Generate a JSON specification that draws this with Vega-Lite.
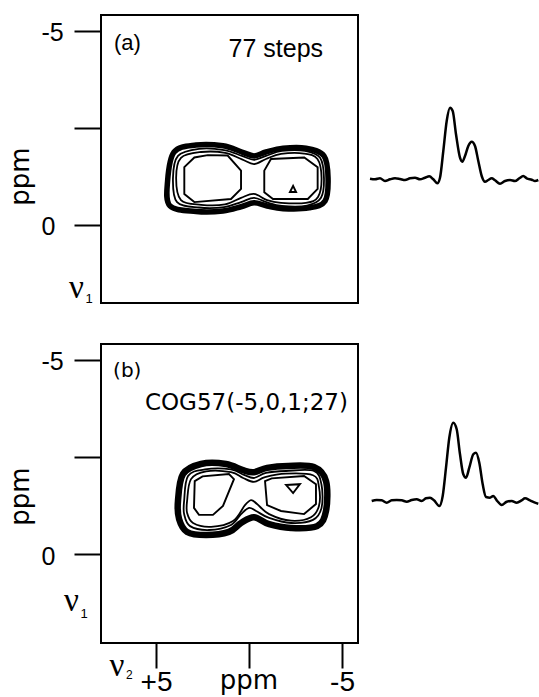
{
"$schema": "https://vega.github.io/schema/vega-lite/v6.json",
"padding": 0,
"background": "white",
"config": {"view": {"stroke": null}, "axis": {"grid": false}},
"datasets": {
"contours": [
{"p":"a","c":"a1","l":"band","i":0,"x":4.38,"y":-1.13},
{"p":"a","c":"a1","l":"band","i":1,"x":4.03,"y":-1.88},
{"p":"a","c":"a1","l":"band","i":2,"x":2.85,"y":-2.06},
{"p":"a","c":"a1","l":"band","i":3,"x":1.40,"y":-2.04},
{"p":"a","c":"a1","l":"band","i":4,"x":0.38,"y":-1.88},
{"p":"a","c":"a1","l":"band","i":5,"x":-0.27,"y":-1.78},
{"p":"a","c":"a1","l":"band","i":6,"x":-0.91,"y":-1.88},
{"p":"a","c":"a1","l":"band","i":7,"x":-1.83,"y":-1.98},
{"p":"a","c":"a1","l":"band","i":8,"x":-3.06,"y":-1.98},
{"p":"a","c":"a1","l":"band","i":9,"x":-4.03,"y":-1.78},
{"p":"a","c":"a1","l":"band","i":10,"x":-4.25,"y":-1.21},
{"p":"a","c":"a1","l":"band","i":11,"x":-4.09,"y":-0.62},
{"p":"a","c":"a1","l":"band","i":12,"x":-3.23,"y":-0.44},
{"p":"a","c":"a1","l":"band","i":13,"x":-1.83,"y":-0.42},
{"p":"a","c":"a1","l":"band","i":14,"x":-0.97,"y":-0.49},
{"p":"a","c":"a1","l":"band","i":15,"x":-0.27,"y":-0.57},
{"p":"a","c":"a1","l":"band","i":16,"x":0.43,"y":-0.47},
{"p":"a","c":"a1","l":"band","i":17,"x":1.40,"y":-0.36},
{"p":"a","c":"a1","l":"band","i":18,"x":2.85,"y":-0.35},
{"p":"a","c":"a1","l":"band","i":19,"x":4.25,"y":-0.49},
{"p":"a","c":"a2","l":"thin","i":0,"x":4.09,"y":-1.21},
{"p":"a","c":"a2","l":"thin","i":1,"x":3.82,"y":-1.78},
{"p":"a","c":"a2","l":"thin","i":2,"x":2.69,"y":-1.96},
{"p":"a","c":"a2","l":"thin","i":3,"x":1.34,"y":-1.93},
{"p":"a","c":"a2","l":"thin","i":4,"x":0.38,"y":-1.78},
{"p":"a","c":"a2","l":"thin","i":5,"x":-0.27,"y":-1.68},
{"p":"a","c":"a2","l":"thin","i":6,"x":-0.91,"y":-1.78},
{"p":"a","c":"a2","l":"thin","i":7,"x":-1.77,"y":-1.91},
{"p":"a","c":"a2","l":"thin","i":8,"x":-3.01,"y":-1.91},
{"p":"a","c":"a2","l":"thin","i":9,"x":-3.82,"y":-1.73},
{"p":"a","c":"a2","l":"thin","i":10,"x":-4.03,"y":-1.21},
{"p":"a","c":"a2","l":"thin","i":11,"x":-3.87,"y":-0.70},
{"p":"a","c":"a2","l":"thin","i":12,"x":-3.12,"y":-0.50},
{"p":"a","c":"a2","l":"thin","i":13,"x":-1.77,"y":-0.49},
{"p":"a","c":"a2","l":"thin","i":14,"x":-0.97,"y":-0.58},
{"p":"a","c":"a2","l":"thin","i":15,"x":-0.27,"y":-0.70},
{"p":"a","c":"a2","l":"thin","i":16,"x":0.43,"y":-0.59},
{"p":"a","c":"a2","l":"thin","i":17,"x":1.34,"y":-0.46},
{"p":"a","c":"a2","l":"thin","i":18,"x":2.69,"y":-0.45},
{"p":"a","c":"a2","l":"thin","i":19,"x":3.87,"y":-0.59},
{"p":"a","c":"a3","l":"thin","i":0,"x":3.92,"y":-1.21},
{"p":"a","c":"a3","l":"thin","i":1,"x":3.66,"y":-1.73},
{"p":"a","c":"a3","l":"thin","i":2,"x":2.58,"y":-1.88},
{"p":"a","c":"a3","l":"thin","i":3,"x":1.29,"y":-1.86},
{"p":"a","c":"a3","l":"thin","i":4,"x":0.38,"y":-1.69},
{"p":"a","c":"a3","l":"thin","i":5,"x":-0.27,"y":-1.57},
{"p":"a","c":"a3","l":"thin","i":6,"x":-0.91,"y":-1.70},
{"p":"a","c":"a3","l":"thin","i":7,"x":-1.72,"y":-1.83},
{"p":"a","c":"a3","l":"thin","i":8,"x":-2.96,"y":-1.84},
{"p":"a","c":"a3","l":"thin","i":9,"x":-3.68,"y":-1.70},
{"p":"a","c":"a3","l":"thin","i":10,"x":-3.90,"y":-1.21},
{"p":"a","c":"a3","l":"thin","i":11,"x":-3.71,"y":-0.72},
{"p":"a","c":"a3","l":"thin","i":12,"x":-3.06,"y":-0.57},
{"p":"a","c":"a3","l":"thin","i":13,"x":-1.72,"y":-0.57},
{"p":"a","c":"a3","l":"thin","i":14,"x":-0.97,"y":-0.64},
{"p":"a","c":"a3","l":"thin","i":15,"x":-0.27,"y":-0.80},
{"p":"a","c":"a3","l":"thin","i":16,"x":0.43,"y":-0.70},
{"p":"a","c":"a3","l":"thin","i":17,"x":1.29,"y":-0.53},
{"p":"a","c":"a3","l":"thin","i":18,"x":2.58,"y":-0.52},
{"p":"a","c":"a3","l":"thin","i":19,"x":3.66,"y":-0.64},
{"p":"a","c":"a4","l":"lobe","i":0,"x":3.48,"y":-1.49},
{"p":"a","c":"a4","l":"lobe","i":1,"x":2.94,"y":-1.74},
{"p":"a","c":"a4","l":"lobe","i":2,"x":2.22,"y":-1.80},
{"p":"a","c":"a4","l":"lobe","i":3,"x":1.15,"y":-1.79},
{"p":"a","c":"a4","l":"lobe","i":4,"x":0.43,"y":-1.40},
{"p":"a","c":"a4","l":"lobe","i":5,"x":0.43,"y":-0.93},
{"p":"a","c":"a4","l":"lobe","i":6,"x":0.97,"y":-0.67},
{"p":"a","c":"a4","l":"lobe","i":7,"x":2.94,"y":-0.59},
{"p":"a","c":"a4","l":"lobe","i":8,"x":3.48,"y":-0.80},
{"p":"a","c":"a5","l":"lobe","i":0,"x":-0.82,"y":-1.40},
{"p":"a","c":"a5","l":"lobe","i":1,"x":-1.18,"y":-1.70},
{"p":"a","c":"a5","l":"lobe","i":2,"x":-2.97,"y":-1.74},
{"p":"a","c":"a5","l":"lobe","i":3,"x":-3.69,"y":-1.49},
{"p":"a","c":"a5","l":"lobe","i":4,"x":-3.69,"y":-0.93},
{"p":"a","c":"a5","l":"lobe","i":5,"x":-3.16,"y":-0.67},
{"p":"a","c":"a5","l":"lobe","i":6,"x":-1.29,"y":-0.67},
{"p":"a","c":"a5","l":"lobe","i":7,"x":-0.82,"y":-0.84},
{"p":"a","c":"a6","l":"lobe","i":0,"x":-2.20,"y":-0.85},
{"p":"a","c":"a6","l":"lobe","i":1,"x":-2.53,"y":-0.85},
{"p":"a","c":"a6","l":"lobe","i":2,"x":-2.37,"y":-1.01},
{"p":"b","c":"b1","l":"band","i":0,"x":3.82,"y":-1.37},
{"p":"b","c":"b1","l":"band","i":1,"x":3.55,"y":-2.06},
{"p":"b","c":"b1","l":"band","i":2,"x":2.58,"y":-2.32},
{"p":"b","c":"b1","l":"band","i":3,"x":1.24,"y":-2.32},
{"p":"b","c":"b1","l":"band","i":4,"x":0.32,"y":-2.16},
{"p":"b","c":"b1","l":"band","i":5,"x":-0.27,"y":-2.11},
{"p":"b","c":"b1","l":"band","i":6,"x":-0.97,"y":-2.22},
{"p":"b","c":"b1","l":"band","i":7,"x":-2.10,"y":-2.27},
{"p":"b","c":"b1","l":"band","i":8,"x":-3.49,"y":-2.24},
{"p":"b","c":"b1","l":"band","i":9,"x":-4.14,"y":-1.88},
{"p":"b","c":"b1","l":"band","i":10,"x":-4.14,"y":-1.11},
{"p":"b","c":"b1","l":"band","i":11,"x":-3.66,"y":-0.72},
{"p":"b","c":"b1","l":"band","i":12,"x":-2.26,"y":-0.67},
{"p":"b","c":"b1","l":"band","i":13,"x":-1.08,"y":-0.77},
{"p":"b","c":"b1","l":"band","i":14,"x":-0.27,"y":-0.95},
{"p":"b","c":"b1","l":"band","i":15,"x":0.43,"y":-0.80},
{"p":"b","c":"b1","l":"band","i":16,"x":1.08,"y":-0.57},
{"p":"b","c":"b1","l":"band","i":17,"x":2.31,"y":-0.49},
{"p":"b","c":"b1","l":"band","i":18,"x":3.33,"y":-0.57},
{"p":"b","c":"b1","l":"band","i":19,"x":3.76,"y":-0.90},
{"p":"b","c":"b2","l":"thin","i":0,"x":3.49,"y":-1.37},
{"p":"b","c":"b2","l":"thin","i":1,"x":3.28,"y":-2.01},
{"p":"b","c":"b2","l":"thin","i":2,"x":2.37,"y":-2.18},
{"p":"b","c":"b2","l":"thin","i":3,"x":0.97,"y":-2.18},
{"p":"b","c":"b2","l":"thin","i":4,"x":0.27,"y":-2.04},
{"p":"b","c":"b2","l":"thin","i":5,"x":-0.27,"y":-1.96},
{"p":"b","c":"b2","l":"thin","i":6,"x":-0.91,"y":-2.09},
{"p":"b","c":"b2","l":"thin","i":7,"x":-1.99,"y":-2.14},
{"p":"b","c":"b2","l":"thin","i":8,"x":-3.49,"y":-2.14},
{"p":"b","c":"b2","l":"thin","i":9,"x":-3.90,"y":-1.78},
{"p":"b","c":"b2","l":"thin","i":10,"x":-3.90,"y":-1.19},
{"p":"b","c":"b2","l":"thin","i":11,"x":-3.44,"y":-0.88},
{"p":"b","c":"b2","l":"thin","i":12,"x":-2.26,"y":-0.80},
{"p":"b","c":"b2","l":"thin","i":13,"x":-1.08,"y":-0.93},
{"p":"b","c":"b2","l":"thin","i":14,"x":-0.38,"y":-1.11},
{"p":"b","c":"b2","l":"thin","i":15,"x":0.0,"y":-1.19},
{"p":"b","c":"b2","l":"thin","i":16,"x":0.43,"y":-1.03},
{"p":"b","c":"b2","l":"thin","i":17,"x":0.97,"y":-0.75},
{"p":"b","c":"b2","l":"thin","i":18,"x":2.15,"y":-0.62},
{"p":"b","c":"b2","l":"thin","i":19,"x":3.17,"y":-0.72},
{"p":"b","c":"b2","l":"thin","i":20,"x":3.49,"y":-1.03},
{"p":"b","c":"b3","l":"thin","i":0,"x":3.33,"y":-1.37},
{"p":"b","c":"b3","l":"thin","i":1,"x":3.12,"y":-1.93},
{"p":"b","c":"b3","l":"thin","i":2,"x":2.31,"y":-2.13},
{"p":"b","c":"b3","l":"thin","i":3,"x":0.97,"y":-2.11},
{"p":"b","c":"b3","l":"thin","i":4,"x":0.32,"y":-1.96},
{"p":"b","c":"b3","l":"thin","i":5,"x":-0.27,"y":-1.86},
{"p":"b","c":"b3","l":"thin","i":6,"x":-0.86,"y":-1.98},
{"p":"b","c":"b3","l":"thin","i":7,"x":-1.99,"y":-2.07},
{"p":"b","c":"b3","l":"thin","i":8,"x":-3.44,"y":-2.03},
{"p":"b","c":"b3","l":"thin","i":9,"x":-3.76,"y":-1.73},
{"p":"b","c":"b3","l":"thin","i":10,"x":-3.76,"y":-1.24},
{"p":"b","c":"b3","l":"thin","i":11,"x":-3.33,"y":-0.95},
{"p":"b","c":"b3","l":"thin","i":12,"x":-2.26,"y":-0.86},
{"p":"b","c":"b3","l":"thin","i":13,"x":-1.08,"y":-1.03},
{"p":"b","c":"b3","l":"thin","i":14,"x":-0.43,"y":-1.29},
{"p":"b","c":"b3","l":"thin","i":15,"x":-0.11,"y":-1.39},
{"p":"b","c":"b3","l":"thin","i":16,"x":0.22,"y":-1.26},
{"p":"b","c":"b3","l":"thin","i":17,"x":0.86,"y":-0.85},
{"p":"b","c":"b3","l":"thin","i":18,"x":2.04,"y":-0.70},
{"p":"b","c":"b3","l":"thin","i":19,"x":3.01,"y":-0.80},
{"p":"b","c":"b3","l":"thin","i":20,"x":3.33,"y":-1.06},
{"p":"b","c":"b4","l":"lobe","i":0,"x":2.92,"y":-1.88},
{"p":"b","c":"b4","l":"lobe","i":1,"x":2.50,"y":-2.00},
{"p":"b","c":"b4","l":"lobe","i":2,"x":1.08,"y":-2.06},
{"p":"b","c":"b4","l":"lobe","i":3,"x":0.81,"y":-1.93},
{"p":"b","c":"b4","l":"lobe","i":4,"x":1.40,"y":-1.24},
{"p":"b","c":"b4","l":"lobe","i":5,"x":1.94,"y":-1.01},
{"p":"b","c":"b4","l":"lobe","i":6,"x":2.69,"y":-1.01},
{"p":"b","c":"b4","l":"lobe","i":7,"x":2.96,"y":-1.19},
{"p":"b","c":"b5","l":"lobe","i":0,"x":-0.86,"y":-1.88},
{"p":"b","c":"b5","l":"lobe","i":1,"x":-1.22,"y":-1.95},
{"p":"b","c":"b5","l":"lobe","i":2,"x":-2.96,"y":-2.01},
{"p":"b","c":"b5","l":"lobe","i":3,"x":-3.60,"y":-1.80},
{"p":"b","c":"b5","l":"lobe","i":4,"x":-3.60,"y":-1.29},
{"p":"b","c":"b5","l":"lobe","i":5,"x":-2.96,"y":-1.03},
{"p":"b","c":"b5","l":"lobe","i":6,"x":-1.72,"y":-1.11},
{"p":"b","c":"b5","l":"lobe","i":7,"x":-0.97,"y":-1.26},
{"p":"b","c":"b6","l":"lobe","i":0,"x":-1.99,"y":-1.78},
{"p":"b","c":"b6","l":"lobe","i":1,"x":-2.74,"y":-1.80},
{"p":"b","c":"b6","l":"lobe","i":2,"x":-2.37,"y":-1.57}
],
"spectra": [
{"p":"a","s":8.40,"v":0.03},{"p":"a","s":7.90,"v":-0.03},{"p":"a","s":7.40,"v":0.07},{"p":"a","s":6.90,"v":-0.20},
{"p":"a","s":6.40,"v":-0.03},{"p":"a","s":5.90,"v":0.07},{"p":"a","s":5.40,"v":0.00},{"p":"a","s":4.90,"v":-0.10},
{"p":"a","s":4.40,"v":0.07},{"p":"a","s":3.90,"v":0.13},{"p":"a","s":3.40,"v":-0.03},{"p":"a","s":2.90,"v":0.13},
{"p":"a","s":2.47,"v":0.27},{"p":"a","s":2.07,"v":-0.03},{"p":"a","s":1.67,"v":-0.43},{"p":"a","s":1.40,"v":0.13},
{"p":"a","s":1.07,"v":2.80},{"p":"a","s":0.73,"v":5.80},{"p":"a","s":0.40,"v":7.13},{"p":"a","s":0.13,"v":6.80},
{"p":"a","s":-0.20,"v":4.47},{"p":"a","s":-0.60,"v":2.13},{"p":"a","s":-0.83,"v":1.73},{"p":"a","s":-1.10,"v":2.30},
{"p":"a","s":-1.43,"v":3.30},{"p":"a","s":-1.77,"v":3.73},{"p":"a","s":-2.10,"v":3.30},{"p":"a","s":-2.43,"v":1.80},
{"p":"a","s":-2.77,"v":0.30},{"p":"a","s":-3.10,"v":-0.27},{"p":"a","s":-3.43,"v":-0.10},{"p":"a","s":-3.77,"v":0.07},
{"p":"a","s":-4.10,"v":-0.13},{"p":"a","s":-4.60,"v":-0.47},{"p":"a","s":-5.10,"v":-0.20},{"p":"a","s":-5.60,"v":-0.10},
{"p":"a","s":-6.10,"v":-0.20},{"p":"a","s":-6.53,"v":0.07},{"p":"a","s":-6.93,"v":0.30},{"p":"a","s":-7.27,"v":0.07},
{"p":"a","s":-7.77,"v":-0.07},{"p":"a","s":-8.10,"v":-0.20},{"p":"a","s":-8.43,"v":-0.10},
{"p":"b","s":8.23,"v":0.00},{"p":"b","s":7.73,"v":0.10},{"p":"b","s":7.23,"v":0.07},{"p":"b","s":6.73,"v":-0.17},
{"p":"b","s":6.23,"v":0.07},{"p":"b","s":5.73,"v":0.10},{"p":"b","s":5.23,"v":0.07},{"p":"b","s":4.73,"v":-0.07},
{"p":"b","s":4.23,"v":0.10},{"p":"b","s":3.73,"v":0.17},{"p":"b","s":3.23,"v":0.00},{"p":"b","s":2.80,"v":0.27},
{"p":"b","s":2.40,"v":0.33},{"p":"b","s":2.00,"v":0.07},{"p":"b","s":1.47,"v":-0.50},{"p":"b","s":1.13,"v":0.50},
{"p":"b","s":0.80,"v":3.33},{"p":"b","s":0.47,"v":6.33},{"p":"b","s":0.07,"v":7.83},{"p":"b","s":-0.27,"v":7.17},
{"p":"b","s":-0.60,"v":4.67},{"p":"b","s":-0.93,"v":2.67},{"p":"b","s":-1.20,"v":2.33},{"p":"b","s":-1.53,"v":3.33},
{"p":"b","s":-1.93,"v":4.67},{"p":"b","s":-2.20,"v":4.83},{"p":"b","s":-2.53,"v":3.83},{"p":"b","s":-2.87,"v":1.67},
{"p":"b","s":-3.20,"v":0.40},{"p":"b","s":-3.60,"v":0.33},{"p":"b","s":-3.93,"v":0.50},{"p":"b","s":-4.27,"v":0.07},
{"p":"b","s":-4.77,"v":-0.40},{"p":"b","s":-5.27,"v":-0.07},{"p":"b","s":-5.77,"v":0.00},{"p":"b","s":-6.27,"v":-0.17},
{"p":"b","s":-6.77,"v":0.07},{"p":"b","s":-7.10,"v":0.27},{"p":"b","s":-7.60,"v":0.07},{"p":"b","s":-8.10,"v":-0.17},
{"p":"b","s":-8.43,"v":-0.27}
]
},
"columns": 2,
"spacing": {"row": 30, "column": 11},
"bounds": "flush",
"align": "all",
"concat": [
{
"width": 257, "height": 288,
"view": {"stroke": "black", "strokeWidth": 2},
"data": {"name": "contours"},
"encoding": {
"x": {"field": "x", "type": "quantitative", "scale": {"domain": [-5.86, 7.96], "reverse": true, "nice": false, "zero": false}, "axis": null},
"y": {"field": "y", "type": "quantitative", "scale": {"domain": [-5.41, 2.01], "reverse": true, "nice": false, "zero": false},
"axis": {"values": [-5, -2.5, 0], "labelExpr": "datum.value == 0 ? '0' : (datum.value == -5 ? '-5' : '')", "domain": false, "grid": false, "tickSize": 27, "tickWidth": 2, "tickColor": "black", "labelFont": "Liberation Sans", "labelFontSize": 25, "labelColor": "black", "labelAlign": "left", "labelPadding": 33, "labelBaseline": "middle", "labelOffset": 2, "labelFlush": false, "labelOverlap": false, "title": "ppm", "titleFont": "DejaVu Sans", "titleFontSize": 26, "titleFontWeight": "normal", "titleColor": "black", "titleAngle": -90, "titleX": -73, "titleY": 161, "titleAlign": "center", "titleBaseline": "alphabetic"}}
},
"layer": [
{"transform": [{"filter": "datum.p == 'a' && datum.l == 'band'"}], "mark": {"type": "line", "interpolate": "cardinal-closed", "strokeWidth": 5.5, "color": "black"}, "encoding": {"detail": {"field": "c"}, "order": {"field": "i", "type": "quantitative"}}},
{"transform": [{"filter": "datum.p == 'a' && datum.l == 'thin'"}], "mark": {"type": "line", "interpolate": "cardinal-closed", "strokeWidth": 1.8, "color": "black"}, "encoding": {"detail": {"field": "c"}, "order": {"field": "i", "type": "quantitative"}}},
{"transform": [{"filter": "datum.p == 'a' && datum.l == 'lobe'"}], "mark": {"type": "line", "interpolate": "linear-closed", "strokeWidth": 1.9, "color": "black"}, "encoding": {"detail": {"field": "c"}, "order": {"field": "i", "type": "quantitative"}}},
{"transform": [{"filter": "datum.c == 'a1' && datum.i == 0"}], "mark": {"type": "text", "text": "(a)", "font": "Liberation Sans", "fontSize": 22, "align": "left", "baseline": "alphabetic", "fill": "black"}, "encoding": {"x": {"datum": 7.26, "type": "quantitative"}, "y": {"datum": -4.51, "type": "quantitative"}}},
{"transform": [{"filter": "datum.c == 'a1' && datum.i == 0"}], "mark": {"type": "text", "text": "77 steps", "font": "Liberation Sans", "fontSize": 25, "align": "right", "baseline": "alphabetic", "fill": "black"}, "encoding": {"x": {"datum": -3.98, "type": "quantitative"}, "y": {"datum": -4.33, "type": "quantitative"}}},
{"transform": [{"filter": "datum.c == 'a1' && datum.i == 0"}], "mark": {"type": "text", "text": "ν", "font": "Liberation Serif", "fontSize": 33, "align": "center", "baseline": "alphabetic", "fill": "black"}, "encoding": {"x": {"datum": 9.28, "type": "quantitative"}, "y": {"datum": 1.88, "type": "quantitative"}}},
{"transform": [{"filter": "datum.c == 'a1' && datum.i == 0"}], "mark": {"type": "text", "text": "1", "font": "Liberation Sans", "fontSize": 13, "align": "center", "baseline": "alphabetic", "fill": "black"}, "encoding": {"x": {"datum": 8.60, "type": "quantitative"}, "y": {"datum": 2.01, "type": "quantitative"}}},
{"transform": [{"filter": "datum.c == 'a1' && datum.i == 0"}], "mark": {"type": "point", "filled": true, "size": 1, "opacity": 0}, "encoding": {"x": {"datum": 13.31, "type": "quantitative"}, "y": {"datum": -5.757, "type": "quantitative"}}}
]
},
{
"width": 170, "height": 288,
"data": {"name": "spectra"},
"transform": [{"filter": "datum.p == 'a'"}],
"mark": {"type": "line", "interpolate": "monotone", "strokeWidth": 2.5, "color": "black"},
"encoding": {
"x": {"field": "s", "type": "quantitative", "scale": {"domain": [-8.5, 8.5], "reverse": true, "nice": false, "zero": false}, "axis": null},
"y": {"field": "v", "type": "quantitative", "scale": {"domain": [-12.4, 16.4], "nice": false, "zero": false}, "axis": null},
"order": {"field": "s", "type": "quantitative", "sort": "descending"}
}
},
{
"width": 257, "height": 299,
"view": {"stroke": "black", "strokeWidth": 2},
"data": {"name": "contours"},
"encoding": {
"x": {"field": "x", "type": "quantitative", "scale": {"domain": [-5.86, 7.96], "reverse": true, "nice": false, "zero": false},
"axis": {"values": [5, 0, -5], "labelExpr": "datum.value == 5 ? '+5' : (datum.value == -5 ? '-5' : '')", "domain": false, "grid": false, "tickSize": 25, "tickWidth": 2, "tickColor": "black", "labelFont": "Liberation Sans", "labelFontSize": 28, "labelColor": "black", "labelPadding": 0, "labelFlush": false, "labelOverlap": false, "title": null}},
"y": {"field": "y", "type": "quantitative", "scale": {"domain": [-5.41, 2.29], "reverse": true, "nice": false, "zero": false},
"axis": {"values": [-5, -2.5, 0], "labelExpr": "datum.value == 0 ? '0' : (datum.value == -5 ? '-5' : '')", "domain": false, "grid": false, "tickSize": 27, "tickWidth": 2, "tickColor": "black", "labelFont": "Liberation Sans", "labelFontSize": 25, "labelColor": "black", "labelAlign": "left", "labelPadding": 33, "labelBaseline": "middle", "labelOffset": 2, "labelFlush": false, "labelOverlap": false, "title": "ppm", "titleFont": "DejaVu Sans", "titleFontSize": 26, "titleFontWeight": "normal", "titleColor": "black", "titleAngle": -90, "titleX": -73, "titleY": 152, "titleAlign": "center", "titleBaseline": "alphabetic"}}
},
"layer": [
{"transform": [{"filter": "datum.p == 'b' && datum.l == 'band'"}], "mark": {"type": "line", "interpolate": "cardinal-closed", "strokeWidth": 6.5, "color": "black"}, "encoding": {"detail": {"field": "c"}, "order": {"field": "i", "type": "quantitative"}}},
{"transform": [{"filter": "datum.p == 'b' && datum.l == 'thin'"}], "mark": {"type": "line", "interpolate": "cardinal-closed", "strokeWidth": 1.8, "color": "black"}, "encoding": {"detail": {"field": "c"}, "order": {"field": "i", "type": "quantitative"}}},
{"transform": [{"filter": "datum.p == 'b' && datum.l == 'lobe'"}], "mark": {"type": "line", "interpolate": "linear-closed", "strokeWidth": 1.9, "color": "black"}, "encoding": {"detail": {"field": "c"}, "order": {"field": "i", "type": "quantitative"}}},
{"transform": [{"filter": "datum.c == 'b1' && datum.i == 0"}], "mark": {"type": "text", "text": "(b)", "font": "DejaVu Sans", "fontSize": 20, "align": "left", "baseline": "alphabetic", "fill": "black"}, "encoding": {"x": {"datum": 7.31, "type": "quantitative"}, "y": {"datum": -4.56, "type": "quantitative"}}},
{"transform": [{"filter": "datum.c == 'b1' && datum.i == 0"}], "mark": {"type": "text", "text": "COG57(-5,0,1;27)", "font": "DejaVu Sans", "fontSize": 23, "align": "right", "baseline": "alphabetic", "fill": "black"}, "encoding": {"x": {"datum": -5.32, "type": "quantitative"}, "y": {"datum": -3.71, "type": "quantitative"}}},
{"transform": [{"filter": "datum.c == 'b1' && datum.i == 0"}], "mark": {"type": "text", "text": "ν", "font": "Liberation Serif", "fontSize": 33, "align": "center", "baseline": "alphabetic", "fill": "black"}, "encoding": {"x": {"datum": 9.55, "type": "quantitative"}, "y": {"datum": 1.47, "type": "quantitative"}}},
{"transform": [{"filter": "datum.c == 'b1' && datum.i == 0"}], "mark": {"type": "text", "text": "1", "font": "Liberation Sans", "fontSize": 13, "align": "center", "baseline": "alphabetic", "fill": "black"}, "encoding": {"x": {"datum": 8.87, "type": "quantitative"}, "y": {"datum": 1.65, "type": "quantitative"}}},
{"transform": [{"filter": "datum.c == 'b1' && datum.i == 0"}], "mark": {"type": "text", "text": "ν", "font": "Liberation Serif", "fontSize": 33, "align": "center", "baseline": "alphabetic", "fill": "black"}, "encoding": {"x": {"datum": 7.10, "type": "quantitative"}, "y": {"datum": 3.14, "type": "quantitative"}}},
{"transform": [{"filter": "datum.c == 'b1' && datum.i == 0"}], "mark": {"type": "text", "text": "2", "font": "Liberation Sans", "fontSize": 12, "align": "center", "baseline": "alphabetic", "fill": "black"}, "encoding": {"x": {"datum": 6.43, "type": "quantitative"}, "y": {"datum": 3.22, "type": "quantitative"}}},
{"transform": [{"filter": "datum.c == 'b1' && datum.i == 0"}], "mark": {"type": "text", "text": "ppm", "font": "DejaVu Sans", "fontSize": 26, "align": "center", "baseline": "alphabetic", "fill": "black"}, "encoding": {"x": {"datum": 0, "type": "quantitative"}, "y": {"datum": 3.47, "type": "quantitative"}}}
]
},
{
"width": 170, "height": 299,
"data": {"name": "spectra"},
"transform": [{"filter": "datum.p == 'b'"}],
"mark": {"type": "line", "interpolate": "monotone", "strokeWidth": 2.5, "color": "black"},
"encoding": {
"x": {"field": "s", "type": "quantitative", "scale": {"domain": [-8.5, 8.5], "reverse": true, "nice": false, "zero": false}, "axis": null},
"y": {"field": "v", "type": "quantitative", "scale": {"domain": [-14.2, 15.7], "nice": false, "zero": false}, "axis": null},
"order": {"field": "s", "type": "quantitative", "sort": "descending"}
}
}
]
}
